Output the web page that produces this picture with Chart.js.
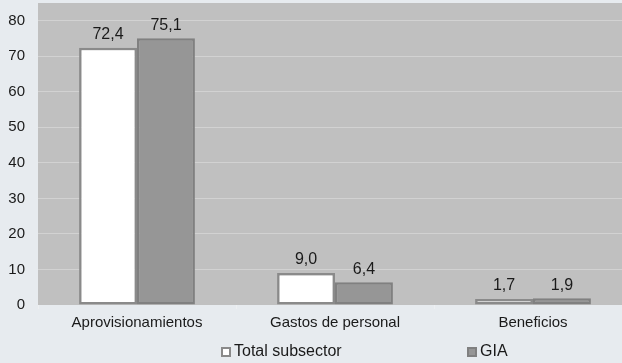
<!DOCTYPE html>
<html>
<head>
<meta charset="utf-8">
<script src="https://cdn.jsdelivr.net/npm/chart.js@4/dist/chart.umd.min.js"></script>
<style>
  html, body { margin: 0; padding: 0; background: #e7ebef; overflow: hidden; width: 622px; height: 363px; }
  #clip { position: relative; width: 622px; height: 363px; overflow: hidden; }
  #wrap { position: absolute; left: 0; top: 0; width: 632px; height: 363px; }
</style>
</head>
<body>
<div id="clip"><div id="wrap"><canvas id="c"></canvas></div></div>
<script>
const categories = ["Aprovisionamientos", "Gastos de personal", "Beneficios"];
const totalSubsector = [72.4, 9.0, 1.7];
const gia = [75.1, 6.4, 1.9];
const seriesLabels = ["Total subsector", "GIA"];
const yTicks = [0, 10, 20, 30, 40, 50, 60, 70, 80];

const FONT = '"Liberation Sans", Arial, sans-serif';

const plotBg = {
  id: 'plotBg',
  beforeDraw(chart) {
    const {ctx, chartArea: a} = chart;
    ctx.save();
    ctx.fillStyle = '#c0c0c0';
    ctx.fillRect(a.left, a.top, a.right - a.left, a.bottom - a.top);
    ctx.restore();
  }
};

const valueLabels = {
  id: 'valueLabels',
  afterDatasetsDraw(chart) {
    const ctx = chart.ctx;
    ctx.save();
    ctx.font = '16px ' + FONT;
    ctx.fillStyle = '#1a1a1a';
    ctx.textAlign = 'center';
    ctx.textBaseline = 'bottom';
    chart.data.datasets.forEach((ds, i) => {
      chart.getDatasetMeta(i).data.forEach((bar, j) => {
        const txt = ds.data[j].toFixed(1).replace('.', ',');
        ctx.fillText(txt, bar.x, bar.y - 5);
      });
    });
    ctx.restore();
  }
};

const customLegend = {
  id: 'customLegend',
  afterDraw(chart) {
    const ctx = chart.ctx;
    const xs = [221, 467];
    const yc = 352;
    ctx.save();
    ctx.font = '16px ' + FONT;
    ctx.textBaseline = 'middle';
    ctx.textAlign = 'left';
    chart.data.datasets.forEach((ds, i) => {
      const x = xs[i];
      ctx.fillStyle = ds.borderColor;
      ctx.fillRect(x, yc - 5, 10, 10);
      ctx.fillStyle = ds.backgroundColor;
      ctx.fillRect(x + 2, yc - 3, 6, 6);
      ctx.fillStyle = '#1a1a1a';
      ctx.fillText(ds.label, x + 13, yc);
    });
    ctx.restore();
  }
};

new Chart(document.getElementById('c'), {
  type: 'bar',
  data: {
    labels: categories,
    datasets: [
      {
        label: seriesLabels[0],
        data: totalSubsector,
        backgroundColor: '#ffffff',
        borderColor: '#8a8a8a',
        borderWidth: 2.5,
        borderSkipped: false,
        categoryPercentage: 0.585,
        barPercentage: 1.0
      },
      {
        label: seriesLabels[1],
        data: gia,
        backgroundColor: '#969696',
        borderColor: '#808080',
        borderWidth: 2.5,
        borderSkipped: false,
        categoryPercentage: 0.585,
        barPercentage: 1.0
      }
    ]
  },
  options: {
    responsive: true,
    maintainAspectRatio: false,
    animation: false,
    layout: { padding: { top: 3, right: 0, bottom: 28, left: 0 } },
    plugins: {
      legend: { display: false },
      tooltip: { enabled: false }
    },
    scales: {
      x: {
        offset: true,
        grid: {
          display: true,
          offset: true,
          drawOnChartArea: false,
          drawTicks: true,
          tickLength: 4,
          color: '#eef0f2'
        },
        border: { display: false },
        ticks: {
          font: { family: FONT, size: 15 },
          color: '#1a1a1a',
          padding: 5
        },
        afterFit(scale) {
          scale.height = 30;
          scale.paddingLeft = 0; scale.paddingRight = 0;
        }
      },
      y: {
        min: 0,
        max: 85,
        afterBuildTicks(scale) {
          scale.ticks = yTicks.map(v => ({ value: v }));
        },
        grid: {
          drawTicks: false,
          color: (c) => (c.tick && c.tick.value === 0) ? 'rgba(0,0,0,0)' : '#d2d2d2',
          lineWidth: 1
        },
        border: { display: false },
        ticks: {
          font: { family: FONT, size: 15 },
          color: '#1a1a1a',
          padding: 13
        },
        afterFit(scale) {
          scale.width = 38;
          scale.paddingTop = 0; scale.paddingBottom = 0;
        }
      }
    }
  },
  plugins: [plotBg, valueLabels, customLegend]
});
</script>
</body>
</html>
